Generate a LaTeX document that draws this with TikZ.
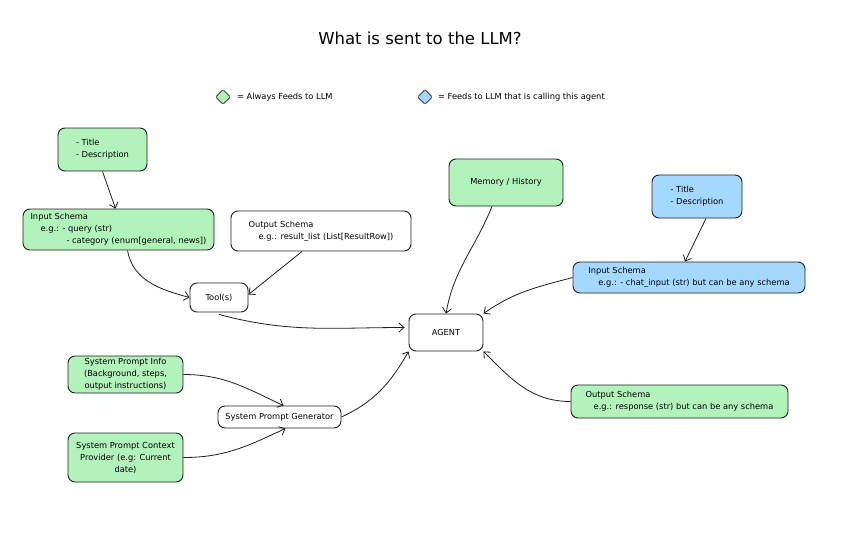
\documentclass[tikz,border=0pt]{standalone}
\usepackage{fontspec}
\setmainfont{DejaVu Sans}
\usetikzlibrary{arrows.meta,shapes.geometric,positioning}
\definecolor{feedgreen}{HTML}{B2F2BB}
\definecolor{feedblue}{HTML}{A5D8FF}
\definecolor{ink}{HTML}{1E1E1E}
\tikzset{
  card/.style={draw=ink, line width=0.9pt, rounded corners=7pt, align=left,
    font=\fontsize{8.3}{12}\selectfont, inner sep=0pt},
  greenbox/.style={card, fill=feedgreen},
  bluebox/.style={card, fill=feedblue},
  plainbox/.style={card, fill=white},
  link/.style={draw=ink, line width=0.8pt, -{Straight Barb[length=5pt,width=9pt]}},
  keymark/.style={diamond, draw=ink, line width=0.8pt, rounded corners=1.5pt,
    minimum size=15pt, inner sep=0pt},
  keytext/.style={font=\fontsize{8.3}{10}\selectfont, inner sep=0pt},
}
\begin{document}
\begin{tikzpicture}[x=1pt, y=1pt]
      \useasboundingbox (0,0) rectangle (848,-538);

      \node[font=\fontsize{16.5}{20}\selectfont] (heading) at (420,-38) {What is sent to the LLM?};

      % legend
      \node[keymark, fill=feedgreen] (keygreen) at (223,-97) {};
      \node[keytext, right=6pt of keygreen] (keygreentext) {= Always Feeds to LLM};
      \node[keymark, fill=feedblue] (keyblue) at (425,-97) {};
      \node[keytext, right=5pt of keyblue] (keybluetext) {= Feeds to LLM that is calling this agent};

      % tool side
      \node[greenbox, minimum width=89pt, minimum height=43pt] (tooldesc) at (102.5,-149.5)
        {- Title\\- Description};
      \node[greenbox, minimum width=191pt, minimum height=41pt] (toolin) at (118.5,-229.5)
        {Input Schema\\\hspace*{10pt}e.g.: - query (str)\\\hspace*{36pt}- category (enum[general, news])};
      \node[plainbox, minimum width=180pt, minimum height=40pt] (toolout) at (321,-231)
        {Output Schema\\\hspace*{10pt}e.g.: result\_list (List[ResultRow])};
      \node[plainbox, minimum width=58pt, minimum height=29pt, align=center] (tools) at (219,-297.5) {Tool(s)};

      % agent side
      \node[greenbox, minimum width=114pt, minimum height=47pt, align=center] (memory) at (506,-182.5) {Memory / History};
      \node[bluebox, minimum width=90pt, minimum height=43pt] (agentdesc) at (697,-196.5)
        {- Title\\- Description};
      \node[bluebox, minimum width=232pt, minimum height=31pt] (agentin) at (689,-277.5)
        {Input Schema\\\hspace*{10pt}e.g.: - chat\_input (str) but can be any schema};
      \node[plainbox, minimum width=74pt, minimum height=37pt, align=center] (agent) at (446,-332.5) {AGENT};
      \node[greenbox, minimum width=217pt, minimum height=33pt] (agentout) at (679.5,-401.5)
        {Output Schema\\\hspace*{8pt}e.g.: response (str) but can be any schema};

      % system prompt
      \node[greenbox, minimum width=115pt, minimum height=37pt, align=center] (spinfo) at (125.5,-374.5)
        {System Prompt Info\\(Background, steps,\\output instructions)};
      \node[plainbox, minimum width=123pt, minimum height=22pt, align=center] (spgen) at (279.5,-417)
        {System Prompt Generator};
      \node[greenbox, minimum width=115pt, minimum height=49pt, align=center] (spctx) at (125.5,-457.5)
        {System Prompt Context\\Provider (e.g: Current\\date)};

      \draw[link] (tooldesc.south) -- ([xshift=-3pt]toolin.north);
      \draw[link] ([xshift=9pt]toolin.south) to[out=-80,in=165] (tools.west);
      \draw[link] ([xshift=-19pt]toolout.south) -- ([yshift=3pt]tools.east);
      \draw[link] ([yshift=-2pt]tools.south) to[out=-15,in=180] ([shift={(-4pt,5pt)}]agent.west);

      \draw[link] ([xshift=-14pt]memory.south) to[out=-112,in=80] (agent.north);
      \draw[link] ([xshift=9pt]agentdesc.south) -- ([xshift=-4pt]agentin.north);
      \draw[link] (agentin.west) to[out=195,in=35] (agent.north east);
      \draw[link] (agentout.west) to[out=180,in=-45] (agent.south east);

      \draw[link] (spinfo.east) to[out=0,in=155] ([xshift=4pt]spgen.north);
      \draw[link] (spctx.east) to[out=0,in=-155] ([xshift=6pt]spgen.south);
      \draw[link] (spgen.east) to[out=25,in=-120] (agent.south west);
    \end{tikzpicture}
\end{document}
